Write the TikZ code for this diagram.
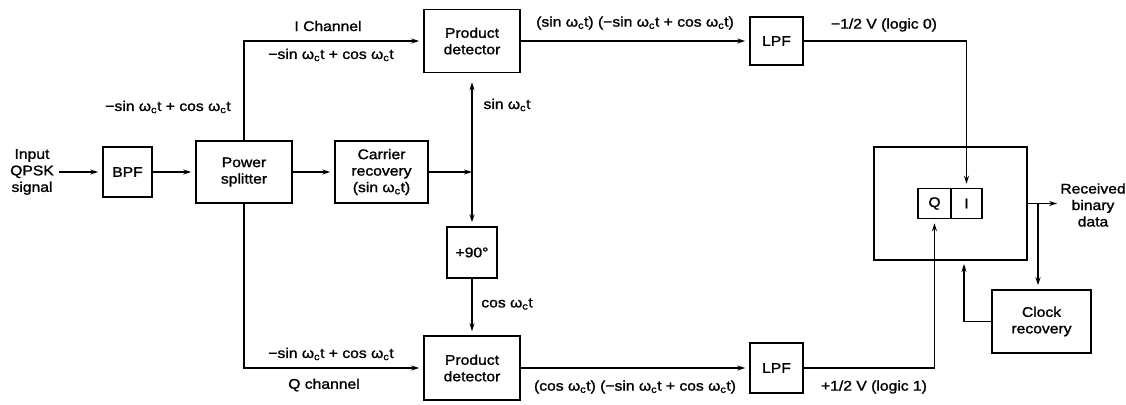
\documentclass[tikz,border=0pt]{standalone}
\usepackage{fontspec}
\setmainfont{Liberation Sans}[FakeStretch=1.12,FakeBold=1.4]
\usetikzlibrary{arrows.meta}
\newcommand{\omct}{ω\textsubscript{c}t}
\begin{document}
\begin{tikzpicture}[x=1pt,y=-1pt,
  font=\fontsize{14}{16.5}\selectfont,
  box/.style={draw, line width=1.5pt, inner sep=0pt, align=center},
  conn/.style={line width=1.2pt, -{Stealth[length=8pt,width=5pt]}, shorten >=4pt},
  lbl/.style={inner sep=0pt, align=center}]
\useasboundingbox (0,0) rectangle (1126,404);
% boxes
\node[lbl] (in) at (32,172) {Input\\QPSK\\signal};
\node[box, minimum width=49pt, minimum height=50pt] (bpf) at (127.5,172) {BPF};
\node[box, minimum width=96pt, minimum height=62pt] (ps) at (244,172) {Power\\splitter};
\node[box, minimum width=93pt, minimum height=62pt] (cr) at (381.5,172) {Carrier\\recovery\\(sin \omct)};
\node[box, minimum width=96pt, minimum height=63pt] (pd1) at (472,41) {Product\\detector};
\node[box, minimum width=50pt, minimum height=51pt] (ninety) at (472,252.5) {+90°};
\node[box, minimum width=96pt, minimum height=64pt] (pd2) at (472,368) {Product\\detector};
\node[box, minimum width=53pt, minimum height=48pt] (lpf1) at (776.5,41) {LPF};
\node[box, minimum width=53pt, minimum height=50pt] (lpf2) at (776.5,368) {LPF};
\node[box, minimum width=153pt, minimum height=113pt] (big) at (950.5,203.5) {};
\node[box, minimum width=33pt, minimum height=30pt] (qcell) at (934.5,203.5) {Q};
\node[box, minimum width=31pt, minimum height=30pt] (icell) at (966.5,203.5) {I};
\node[box, minimum width=99pt, minimum height=63pt] (clk) at (1041.5,321.5) {Clock\\recovery};
\node[lbl] (rx) at (1093,205) {Received\\binary\\data};
% coordinates
\coordinate (j) at (472,172);
\coordinate (br) at (1038,203.5);
\coordinate (cb) at (964,260);
% connectors
\draw[conn, shorten <=5pt] (in) -- (bpf);
\draw[conn] (bpf) -- (ps);
\draw[conn] (ps) -- (cr);
\draw[conn, shorten >=0pt] (cr) -- (j);
\draw[conn, shorten >=9pt] (j) -- (pd1);
\draw[conn] (j) -- (ninety);
\draw[conn] (ps.north) |- (pd1.west);
\draw[conn] (ps.south) |- (pd2.west);
\draw[conn] (ninety) -- (pd2);
\draw[conn] (pd1) -- (lpf1);
\draw[conn] (pd2) -- (lpf2);
\draw[conn] (lpf1.east) -| (icell.north);
\draw[conn] (lpf2.east) -| (qcell.south);
\draw[conn, shorten >=3pt] (big.east) -- (rx.west |- big.east);
\draw[conn] (br) -- (br |- clk.north);
\draw[conn] (clk.west) -| (cb);
% labels
\node[lbl] (l1) at (328,26) {I Channel};
\node[lbl] (l2) at (331,55) {−sin \omct{} + cos \omct};
\node[lbl] (l3) at (168,107) {−sin \omct{} + cos \omct};
\node[lbl] (l4) at (635,23) {(sin \omct) (−sin \omct{} + cos \omct)};
\node[lbl] (l5) at (507,105) {sin \omct};
\node[lbl] (l6) at (884,25) {−1/2 V (logic 0)};
\node[lbl] (l7) at (507,304) {cos \omct};
\node[lbl] (l8) at (331,354) {−sin \omct{} + cos \omct};
\node[lbl] (l9) at (324,385) {Q channel};
\node[lbl] (l10) at (635,387) {(cos \omct) (−sin \omct{} + cos \omct)};
\node[lbl] (l11) at (874,387) {+1/2 V (logic 1)};
\end{tikzpicture}
\end{document}
